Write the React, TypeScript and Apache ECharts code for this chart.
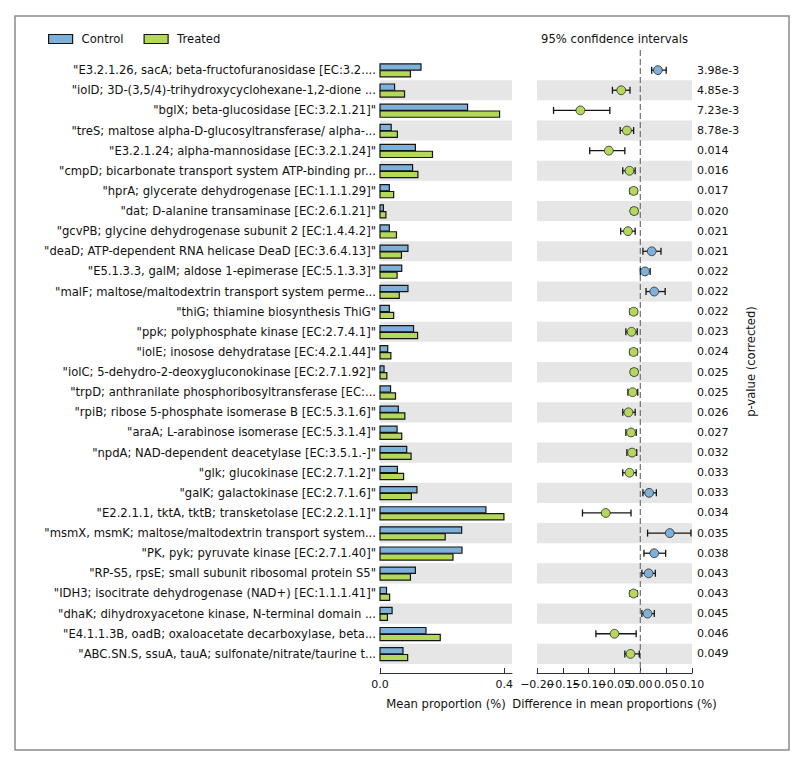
import React, { useEffect, useRef } from 'react';
import * as echarts from 'echarts';

const features = [
  '"E3.2.1.26, sacA; beta-fructofuranosidase [EC:3.2....',
  '"iolD; 3D-(3,5/4)-trihydroxycyclohexane-1,2-dione ...',
  '"bglX; beta-glucosidase [EC:3.2.1.21]"',
  '"treS; maltose alpha-D-glucosyltransferase/ alpha-...',
  '"E3.2.1.24; alpha-mannosidase [EC:3.2.1.24]"',
  '"cmpD; bicarbonate transport system ATP-binding pr...',
  '"hprA; glycerate dehydrogenase [EC:1.1.1.29]"',
  '"dat; D-alanine transaminase [EC:2.6.1.21]"',
  '"gcvPB; glycine dehydrogenase subunit 2 [EC:1.4.4.2]"',
  '"deaD; ATP-dependent RNA helicase DeaD [EC:3.6.4.13]"',
  '"E5.1.3.3, galM; aldose 1-epimerase [EC:5.1.3.3]"',
  '"malF; maltose/maltodextrin transport system perme...',
  '"thiG; thiamine biosynthesis ThiG"',
  '"ppk; polyphosphate kinase [EC:2.7.4.1]"',
  '"iolE; inosose dehydratase [EC:4.2.1.44]"',
  '"iolC; 5-dehydro-2-deoxygluconokinase [EC:2.7.1.92]"',
  '"trpD; anthranilate phosphoribosyltransferase [EC:...',
  '"rpiB; ribose 5-phosphate isomerase B [EC:5.3.1.6]"',
  '"araA; L-arabinose isomerase [EC:5.3.1.4]"',
  '"npdA; NAD-dependent deacetylase [EC:3.5.1.-]"',
  '"glk; glucokinase [EC:2.7.1.2]"',
  '"galK; galactokinase [EC:2.7.1.6]"',
  '"E2.2.1.1, tktA, tktB; transketolase [EC:2.2.1.1]"',
  '"msmX, msmK; maltose/maltodextrin transport system...',
  '"PK, pyk; pyruvate kinase [EC:2.7.1.40]"',
  '"RP-S5, rpsE; small subunit ribosomal protein S5"',
  '"IDH3; isocitrate dehydrogenase (NAD+) [EC:1.1.1.41]"',
  '"dhaK; dihydroxyacetone kinase, N-terminal domain ...',
  '"E4.1.1.3B, oadB; oxaloacetate decarboxylase, beta...',
  '"ABC.SN.S, ssuA, tauA; sulfonate/nitrate/taurine t...',
];

const pValues = [
  '3.98e-3', '4.85e-3', '7.23e-3', '8.78e-3', '0.014', '0.016', '0.017', '0.020', '0.021', '0.021',
  '0.022', '0.022', '0.022', '0.023', '0.024', '0.025', '0.025', '0.026', '0.027', '0.032',
  '0.033', '0.033', '0.034', '0.035', '0.038', '0.043', '0.043', '0.045', '0.046', '0.049',
];

const controlMean = [
  0.132, 0.047, 0.282, 0.036, 0.114, 0.105, 0.030, 0.011, 0.030, 0.090,
  0.070, 0.090, 0.030, 0.108, 0.025, 0.013, 0.034, 0.059, 0.055, 0.086,
  0.056, 0.119, 0.341, 0.263, 0.264, 0.114, 0.021, 0.039, 0.148, 0.074,
];

const treatedMean = [
  0.098, 0.079, 0.385, 0.056, 0.169, 0.122, 0.044, 0.019, 0.053, 0.069,
  0.055, 0.062, 0.044, 0.121, 0.035, 0.022, 0.050, 0.080, 0.070, 0.100,
  0.076, 0.101, 0.399, 0.210, 0.235, 0.098, 0.031, 0.024, 0.194, 0.089,
];

const diffMean = [
  0.034, -0.037, -0.116, -0.026, -0.061, -0.021, -0.013, -0.012, -0.024, 0.022,
  0.009, 0.027, -0.013, -0.017, -0.013, -0.012, -0.015, -0.023, -0.018, -0.016,
  -0.021, 0.017, -0.067, 0.057, 0.027, 0.016, -0.013, 0.014, -0.050, -0.019,
];

const ciLow = [
  0.022, -0.054, -0.168, -0.039, -0.098, -0.034, -0.020, -0.018, -0.038, 0.005,
  0.000, 0.011, -0.020, -0.028, -0.020, -0.018, -0.024, -0.034, -0.028, -0.026,
  -0.034, 0.005, -0.112, 0.014, 0.007, 0.003, -0.020, 0.003, -0.086, -0.030,
];

const ciHigh = [
  0.050, -0.020, -0.059, -0.013, -0.030, -0.010, -0.007, -0.006, -0.010, 0.040,
  0.019, 0.048, -0.007, -0.006, -0.006, -0.006, -0.005, -0.010, -0.008, -0.007,
  -0.008, 0.031, -0.018, 0.098, 0.049, 0.029, -0.006, 0.027, -0.008, -0.002,
];

const meanTicks = [0, 0.4];
const diffTicks = [-0.2, -0.15, -0.1, -0.05, 0, 0.05, 0.1];
// labels split over two overlaid axes so that ECharts does not drop the overlapping one
const diffLabelsA = [-0.2, -0.1, -0.05, 0, 0.05, 0.1];
const diffLabelsB = [-0.15];

const FONT = 'DejaVu Sans';
const BLUE = '#7db1d9';
const GREEN = '#b4d85a';
const BAND = '#e6e6e6';
const EDGE = '#151515';

export default function App() {
  const ref = useRef<HTMLDivElement>(null);

  useEffect(() => {
    document.body.style.margin = '0';
    if (!ref.current) return;
    const chart = echarts.init(ref.current, undefined, { renderer: 'svg' });

    const shaded = features.map((_, i) => i).filter((i) => i % 2 === 1).map((i) => [i]);

    const renderBand = (params: any, api: any) => {
      const idx = api.value(0);
      const c = api.coord([0, idx]);
      const h = api.size([0, 1])[1];
      const cs = params.coordSys;
      return {
        type: 'rect',
        shape: { x: cs.x, y: c[1] - h / 2, width: cs.width, height: h },
        style: { fill: BAND },
        silent: true,
      };
    };

    const renderBar = (upper: boolean) => (params: any, api: any) => {
      const idx = api.value(0);
      const val = api.value(1);
      const s = api.coord([0, idx]);
      const e = api.coord([val, idx]);
      const rowH = api.size([0, 1])[1];
      const h = rowH * 0.31;
      const y = upper ? s[1] - h : s[1] + rowH * 0.03;
      return {
        type: 'rect',
        shape: { x: s[0], y, width: e[0] - s[0], height: h },
        style: { fill: api.visual('color'), stroke: EDGE, lineWidth: 1.2 },
      };
    };

    const renderCI = (params: any, api: any) => {
      const idx = api.value(0);
      const d = api.value(1);
      const p = api.coord([d, idx]);
      const lo = api.coord([api.value(2), idx]);
      const hi = api.coord([api.value(3), idx]);
      const capH = 3.5;
      const stroke = { stroke: EDGE, lineWidth: 1.3 };
      return {
        type: 'group',
        children: [
          { type: 'line', shape: { x1: lo[0], y1: p[1], x2: hi[0], y2: p[1] }, style: stroke },
          { type: 'line', shape: { x1: lo[0], y1: p[1] - capH, x2: lo[0], y2: p[1] + capH }, style: stroke },
          { type: 'line', shape: { x1: hi[0], y1: p[1] - capH, x2: hi[0], y2: p[1] + capH }, style: stroke },
          {
            type: 'circle',
            shape: { cx: p[0], cy: p[1], r: 4.4 },
            style: { fill: d > 0 ? BLUE : GREEN, stroke: '#333', lineWidth: 0.9 },
          },
        ],
      };
    };

    const renderZero = (params: any, api: any) => {
      const x = api.coord([0, 0])[0];
      const cs = params.coordSys;
      return {
        type: 'line',
        shape: { x1: x, y1: cs.y, x2: x, y2: cs.y + cs.height },
        style: { stroke: '#7a7a7a', lineWidth: 1.3, lineDash: [6, 3] },
        silent: true,
      };
    };

    const numStyle = { fontFamily: FONT, fontSize: 11, color: '#111' };
    const textStyle = { fontFamily: FONT, fontSize: 11.6, color: '#111' };
    const rowLabel = (arr: string[]) => (v: number) => {
      const i = Math.round(v);
      if (Math.abs(v - i) > 1e-6 || i < 0 || i >= arr.length) return '';
      return arr[i];
    };
    const diffFmt = (v: number) => {
      const r = Math.round(v * 100) / 100;
      if (Math.abs(r) < 1e-9) return '0.00';
      return r < 0 ? '\u2212' + Math.abs(r).toFixed(2) : r.toFixed(2);
    };

    const option: any = {
      animation: false,
      backgroundColor: '#fff',
      textStyle: { fontFamily: FONT },
      legend: {
        left: 48,
        top: 33,
        padding: 0,
        itemWidth: 24,
        itemHeight: 9,
        itemGap: 20,
        icon: 'rect',
        textStyle: { ...textStyle, padding: [0, 0, 0, 4] },
        data: [
          { name: 'Control', itemStyle: { color: BLUE, borderColor: EDGE, borderWidth: 1.2 } },
          { name: 'Treated', itemStyle: { color: GREEN, borderColor: EDGE, borderWidth: 1.2 } },
        ],
      },
      graphic: [
        {
          type: 'rect',
          shape: { x: 15, y: 16, width: 774, height: 734 },
          style: { fill: 'none', stroke: '#8a8a8a', lineWidth: 1.5 },
          silent: true,
          z: -10,
        },
        {
          type: 'text',
          x: 614.5,
          y: 39,
          style: {
            text: '95% confidence intervals',
            font: `11.6px "${FONT}"`,
            fill: '#111',
            textAlign: 'center',
            textVerticalAlign: 'middle',
          },
        },
      ],
      grid: [
        { left: 380, top: 50, width: 132, height: 623 },
        { left: 537, top: 50, width: 155, height: 623 },
        { left: 537, top: 50, width: 155, height: 623 },
      ],
      xAxis: [
        {
          gridIndex: 0,
          type: 'value',
          min: 0,
          max: 0.425,
          splitLine: { show: false },
          axisLine: { show: true, onZero: false, lineStyle: { color: '#333', width: 1 } },
          axisTick: { show: true, inside: true, length: 5, customValues: meanTicks, lineStyle: { color: '#333' } },
          axisLabel: { ...numStyle, margin: 6, customValues: meanTicks, formatter: (v: number) => v.toFixed(1) },
          name: 'Mean proportion (%)',
          nameLocation: 'middle',
          nameGap: 25,
          nameTextStyle: textStyle,
        },
        {
          gridIndex: 1,
          type: 'value',
          min: -0.2,
          max: 0.1,
          interval: 0.05,
          splitLine: { show: false },
          axisLine: { show: true, onZero: false, lineStyle: { color: '#333', width: 1 } },
          axisTick: { show: true, inside: true, length: 5, customValues: diffTicks, lineStyle: { color: '#333' } },
          axisLabel: {
            ...numStyle,
            margin: 6,
            hideOverlap: false,
            showMinLabel: true,
            showMaxLabel: true,
            customValues: diffLabelsA,
            formatter: diffFmt,
          },
          name: 'Difference in mean proportions (%)',
          nameLocation: 'middle',
          nameGap: 25,
          nameTextStyle: textStyle,
        },
        {
          gridIndex: 2,
          type: 'value',
          min: -0.2,
          max: 0.1,
          interval: 0.05,
          splitLine: { show: false },
          axisLine: { show: false, onZero: false },
          axisTick: { show: false },
          axisLabel: {
            ...numStyle,
            margin: 6,
            hideOverlap: false,
            customValues: diffLabelsB,
            formatter: diffFmt,
          },
        },
      ],
      yAxis: [
        {
          gridIndex: 0,
          type: 'value',
          inverse: true,
          min: -1,
          max: 29.95,
          interval: 1,
          splitLine: { show: false },
          axisLine: { show: false, onZero: false },
          axisTick: { show: false },
          axisLabel: { ...textStyle, margin: 4, formatter: rowLabel(features) },
        },
        {
          gridIndex: 1,
          type: 'value',
          position: 'right',
          inverse: true,
          min: -1,
          max: 29.95,
          interval: 1,
          splitLine: { show: false },
          axisLine: { show: false, onZero: false },
          axisTick: { show: false },
          axisLabel: { ...numStyle, margin: 5, formatter: rowLabel(pValues) },
          name: 'p-value (corrected)',
          nameLocation: 'middle',
          nameRotate: 90,
          nameGap: 53,
          nameTextStyle: textStyle,
        },
        {
          gridIndex: 2,
          type: 'value',
          min: -1,
          max: 29.95,
          show: false,
        },
      ],
      series: [
        {
          type: 'custom',
          name: 'band0',
          xAxisIndex: 0,
          yAxisIndex: 0,
          z: 0,
          silent: true,
          renderItem: renderBand,
          data: shaded,
          encode: { y: 0 },
        },
        {
          type: 'custom',
          name: 'band1',
          xAxisIndex: 1,
          yAxisIndex: 1,
          z: 0,
          silent: true,
          renderItem: renderBand,
          data: shaded,
          encode: { y: 0 },
        },
        {
          type: 'custom',
          name: 'Control',
          xAxisIndex: 0,
          yAxisIndex: 0,
          z: 2,
          itemStyle: { color: BLUE, borderColor: EDGE, borderWidth: 1.2 },
          renderItem: renderBar(true),
          data: controlMean.map((v, i) => [i, v]),
          encode: { y: 0, x: 1 },
        },
        {
          type: 'custom',
          name: 'Treated',
          xAxisIndex: 0,
          yAxisIndex: 0,
          z: 2,
          itemStyle: { color: GREEN, borderColor: EDGE, borderWidth: 1.2 },
          renderItem: renderBar(false),
          data: treatedMean.map((v, i) => [i, v]),
          encode: { y: 0, x: 1 },
        },
        {
          type: 'custom',
          name: 'zero',
          xAxisIndex: 1,
          yAxisIndex: 1,
          z: 1,
          silent: true,
          renderItem: renderZero,
          data: [[0]],
        },
        {
          type: 'custom',
          name: 'ci',
          xAxisIndex: 1,
          yAxisIndex: 1,
          z: 3,
          renderItem: renderCI,
          data: diffMean.map((d, i) => [i, d, ciLow[i], ciHigh[i]]),
          encode: { y: 0, x: 1 },
        },
      ],
    };

    chart.setOption(option);
    return () => chart.dispose();
  }, []);

  return <div ref={ref} style={{ width: 800, height: 759 }} />;
}
